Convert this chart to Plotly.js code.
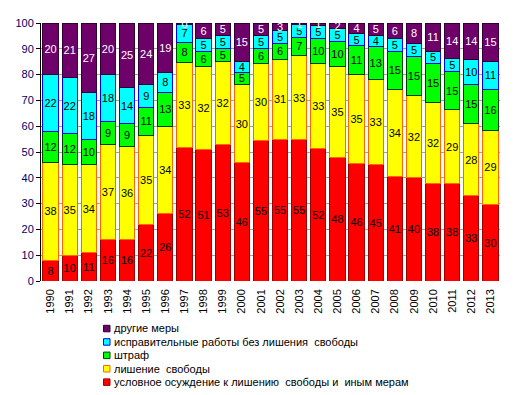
<!DOCTYPE html>
<html><head><meta charset="utf-8">
<script src="https://cdn.plot.ly/plotly-3.0.1.min.js"></script>
<style>html,body{margin:0;padding:0;background:#fff}#c{width:515px;height:395px}</style>
</head><body><div id="c"></div>
<script>
const years = ['1990','1991','1992','1993','1994','1995','1996','1997','1998','1999','2000','2001','2002','2003','2004','2005','2006','2007','2008','2009','2010','2011','2012','2013'];
const conditional = [8,10,11,16,16,22,26,52,51,53,46,55,55,55,52,48,46,45,41,40,38,38,33,30];
const prison = [38,35,34,37,36,35,34,33,32,32,30,30,31,33,33,35,35,33,34,32,32,29,28,29];
const fine = [12,12,10,9,9,11,13,8,6,5,5,6,6,7,10,10,11,13,15,15,15,15,15,16];
const correctional = [22,22,18,18,14,9,8,7,5,5,4,5,5,5,5,5,5,4,5,5,5,5,10,11];
const other = [20,21,27,20,25,24,19,0.4,6,5,15,5,3,0.6,1,2,4,5,6,8,11,14,14,15];
const names = ['условное осуждение к лишению  свободы и  иным мерам','лишение  свободы','штраф','исправительные работы без лишения  свободы','другие меры'];

const series = [conditional, prison, fine, correctional, other];
const fills = ['#FF0000','#FFFF00','#00FF00','#00FFFF','#6E006A'];
const lines = ['#990000','#FF6600','#004000','#0000FF','#300030'];
const txtCol = ['#000','#000','#000','#000','#fff'];

const FONT = 'Liberation Sans, Arial, sans-serif';
const data = series.map((vals,i)=>({
  type:'bar', x: years, y: vals, name: names[i],
  marker:{color: fills[i], line:{color: lines[i], width:1}},
  text: vals.map(v=>String(Math.round(v))),
  textposition:'inside', insidetextanchor:'middle', textangle:0,
  textfont:{family:FONT, size:11, color: txtCol[i]},
  hoverinfo:'x+y+name'
}));

// custom legend (reversed order, compact spacing like the original)
const L = 41, T = 23, W = 459, H = 258;
const px2x = p => (p - L) / W;
const py2y = p => (T + H - p) / H;
const shapes = [], annotations = [];
const order = [4,3,2,1,0];
order.forEach((si, k) => {
  const cy = 328.3 + 13.4 * k;
  shapes.push({type:'rect', xref:'paper', yref:'paper',
    x0: px2x(103.5), x1: px2x(110), y0: py2y(cy+3.5), y1: py2y(cy-3),
    fillcolor: fills[si], line:{color: lines[si], width:1}});
  annotations.push({xref:'paper', yref:'paper', x: px2x(112), y: py2y(cy), xanchor:'left', yanchor:'middle',
    text: names[si], showarrow:false, font:{family:FONT, size:11, color:'#000'}});
});

const layout = {
  width:515, height:395,
  margin:{l:L, r:515-L-W, t:T, b:395-T-H},
  barmode:'stack', barnorm:'percent', bargap:0.2,
  paper_bgcolor:'#fff', plot_bgcolor:'#fff',
  font:{family:FONT, size:11, color:'#000'},
  uniformtext:{minsize:11, mode:'show'},
  xaxis:{type:'category', tickangle:-90, tickfont:{size:11, color:'#000'}, showline:false, ticks:'', showgrid:false, ticklabelstandoff:5},
  yaxis:{range:[0,100], dtick:10, tickfont:{size:11, color:'#000066'}, showgrid:true, gridcolor:'#A0A0A0', gridwidth:1,
         showline:true, linecolor:'#000', linewidth:1, ticks:'outside', ticklen:4, tickcolor:'#000', zeroline:false},
  showlegend:false,
  shapes: shapes, annotations: annotations
};
Plotly.newPlot('c', data, layout, {displayModeBar:false, staticPlot:true});
</script></body></html>
